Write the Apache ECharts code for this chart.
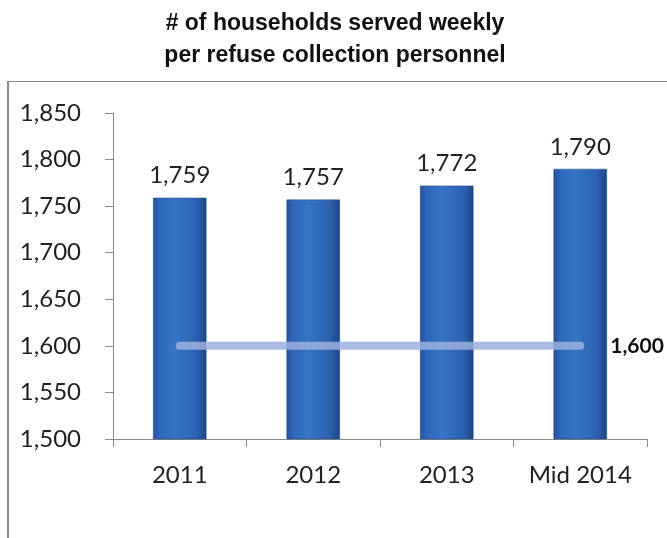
<!DOCTYPE html>
<html>
<head>
<meta charset="utf-8">
<script src="https://cdn.jsdelivr.net/npm/echarts@6/dist/echarts.min.js"></script>
<style>
  html, body { margin: 0; padding: 0; background: #fff; }
  #chart { width: 667px; height: 538px; position: relative; }
  #frame { position: absolute; left: 7px; top: 81px; width: 670px; height: 470px;
           border-left: 2px solid #8a8a8a; border-top: 1px solid #8a8a8a; pointer-events: none; }
</style>
</head>
<body>
<div id="chart"></div>
<script>
// Households served weekly per refuse collection worker
const periods = ['2011', '2012', '2013', 'Mid 2014'];
const householdsPerWorker = [1759, 1757, 1772, 1790];
const benchmark = [1600, 1600, 1600, 1600];
const benchmarkLabel = '1,600';
const yTicks = { min: 1500, max: 1850, step: 50 };

const fmt = v => Number(v).toLocaleString('en-US');
const labelFont = 'Lato, "Open Sans", sans-serif';

const el = document.getElementById('chart');
const chart = echarts.init(el, null, { renderer: 'canvas' });

const barFill = new echarts.graphic.LinearGradient(0, 0, 1, 0, [
  { offset: 0, color: '#24529e' },
  { offset: 0.12, color: '#2f66b8' },
  { offset: 0.4, color: '#3674c6' },
  { offset: 0.8, color: '#2d62b2' },
  { offset: 1, color: '#1d4688' }
]);

chart.setOption({
  backgroundColor: '#ffffff',
  animation: false,
  title: {
    text: '# of households served weekly\nper refuse collection personnel',
    left: 330,
    textAlign: 'center',
    top: 3,
    textStyle: {
      fontFamily: '"Liberation Sans Narrow", "Arial Narrow", "Liberation Sans", sans-serif',
      fontWeight: 'bold',
      fontSize: 23,
      lineHeight: 32,
      color: '#111'
    }
  },
  grid: { left: 113, right: 20, top: 113, bottom: 99 },
  xAxis: {
    type: 'category',
    data: periods,
    axisLine: { lineStyle: { color: '#8a8a8a', width: 1 } },
    axisTick: { show: true, length: 8, lineStyle: { color: '#8a8a8a' } },
    axisLabel: { color: '#222', fontFamily: labelFont, fontSize: 24, margin: 24, interval: 0 }
  },
  yAxis: {
    type: 'value',
    min: yTicks.min,
    max: yTicks.max,
    interval: yTicks.step,
    axisLine: { show: true, lineStyle: { color: '#8a8a8a', width: 1 } },
    axisTick: { show: true, length: 8, lineStyle: { color: '#8a8a8a' } },
    splitLine: { show: false },
    axisLabel: { color: '#222', fontFamily: labelFont, fontSize: 24, margin: 32, formatter: fmt }
  },
  series: [
    {
      type: 'bar',
      data: householdsPerWorker,
      barWidth: '40%',
      itemStyle: { color: barFill, borderColor: '#1d4688', borderWidth: 0.5 },
      label: {
        show: true,
        position: 'top',
        distance: 10,
        color: '#222',
        fontFamily: labelFont,
        fontSize: 24,
        formatter: p => fmt(p.value)
      },
      z: 2
    },
    {
      type: 'line',
      data: benchmark,
      symbol: 'none',
      lineStyle: { color: '#9bb0de', width: 8, opacity: 0.85, cap: 'round' },
      endLabel: {
        show: true,
        formatter: benchmarkLabel,
        distance: 30,
        color: '#111',
        fontFamily: labelFont,
        fontWeight: 'bold',
        fontSize: 21
      },
      z: 5
    }
  ]
});
const frame = document.createElement('div');
frame.id = 'frame';
el.appendChild(frame);
</script>
</body>
</html>
